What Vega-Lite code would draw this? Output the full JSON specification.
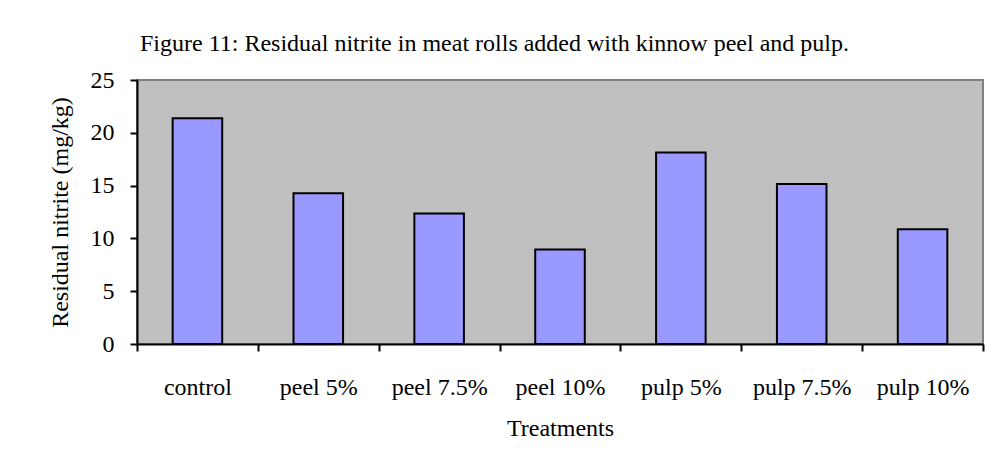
{
  "$schema": "https://vega.github.io/schema/vega-lite/v6.json",
  "autosize": {"type": "none"},
  "padding": {"left": 137, "top": 80, "right": 19, "bottom": 114},
  "width": 846,
  "height": 264,
  "background": "white",
  "title": {
    "text": "Figure 11: Residual nitrite in meat rolls added with kinnow peel and pulp.",
    "anchor": "start",
    "frame": "group",
    "font": "Liberation Serif",
    "fontSize": 24,
    "fontWeight": "normal",
    "color": "black",
    "baseline": "alphabetic",
    "offset": -7,
    "dx": 3
  },
  "data": {
    "values": [
      {"treatment": "control", "nitrite": 21.37},
      {"treatment": "peel 5%", "nitrite": 14.28},
      {"treatment": "peel 7.5%", "nitrite": 12.35},
      {"treatment": "peel 10%", "nitrite": 8.94},
      {"treatment": "pulp 5%", "nitrite": 18.14},
      {"treatment": "pulp 7.5%", "nitrite": 15.16},
      {"treatment": "pulp 10%", "nitrite": 10.86}
    ]
  },
  "mark": {
    "type": "bar",
    "fill": "#9999FF",
    "stroke": "black",
    "strokeWidth": 2,
    "width": {"band": 0.41}
  },
  "encoding": {
    "x": {
      "field": "treatment",
      "type": "nominal",
      "sort": null,
      "scale": {"paddingInner": 0, "paddingOuter": 0},
      "axis": {
        "title": "Treatments",
        "labelAngle": 0,
        "tickBand": "extent",
        "labelPadding": 24,
        "titlePadding": 17
      }
    },
    "y": {
      "field": "nitrite",
      "type": "quantitative",
      "scale": {"domain": [0, 25], "nice": false},
      "axis": {
        "values": [0, 5, 10, 15, 20, 25],
        "grid": false,
        "title": "Residual nitrite (mg/kg)",
        "labelPadding": 16,
        "titlePadding": 18
      }
    }
  },
  "config": {
    "view": {"fill": "#C0C0C0", "stroke": "#808080", "strokeWidth": 2},
    "axis": {
      "domainColor": "black",
      "domainWidth": 2,
      "tickColor": "black",
      "tickWidth": 2,
      "tickSize": 7,
      "labelFont": "Liberation Serif",
      "labelFontSize": 24,
      "labelColor": "black",
      "titleFont": "Liberation Serif",
      "titleFontSize": 24,
      "titleFontWeight": "normal",
      "titleColor": "black"
    }
  }
}
